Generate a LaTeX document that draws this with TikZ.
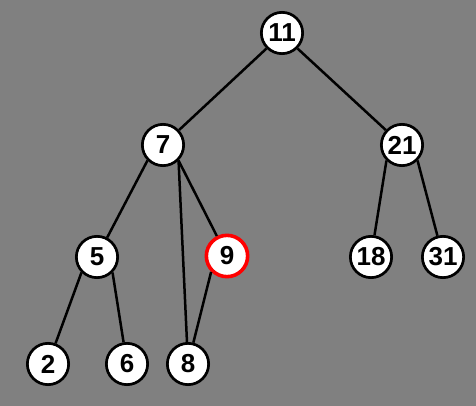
\documentclass[tikz,border=0pt]{standalone}
\usepackage{fontspec}
\setmainfont{Liberation Sans}
\begin{document}
\begin{tikzpicture}[x=1pt,y=-1pt,
  tnode/.style={circle,draw=black,fill=white,line width=2.7pt,minimum size=41.3pt,inner sep=0pt,font=\fontsize{26}{26}\selectfont\bfseries},
  hnode/.style={tnode,draw=red,line width=3.6pt},
  edge/.style={draw=black,line width=2.5pt}]
\fill[fill={rgb,255:red,128;green,128;blue,128}] (0,0) rectangle (476,406);
\useasboundingbox (0,0) rectangle (476,406);
\node[tnode] (n11) at (282,33) {11};
\node[tnode] (n7) at (163,145) {7};
\node[tnode] (n21) at (402,145) {21};
\node[tnode] (n5) at (97,257) {5};
\node[hnode] (n9) at (227,256) {9};
\node[tnode] (n18) at (371,257) {18};
\node[tnode] (n31) at (443,257) {31};
\node[tnode] (n2) at (48,364) {2};
\node[tnode] (n6) at (127,364) {6};
\node[tnode] (n8) at (188,364) {8};
\path[edge] (n11.south west) -- (n7);
\path[edge] (n11.south east) -- (n21);
\path[edge] (n7.south west) -- (n5);
\path[edge] (n7.south east) -- (n9);
\path[edge] (n7.south east) -- (n8);
\path[edge] (n9.south west) -- (n8);
\path[edge] (n5.south west) -- (n2);
\path[edge] (n5.south east) -- (n6);
\path[edge] (n21.south west) -- (n18);
\path[edge] (n21.south east) -- (n31);
\end{tikzpicture}
\end{document}
